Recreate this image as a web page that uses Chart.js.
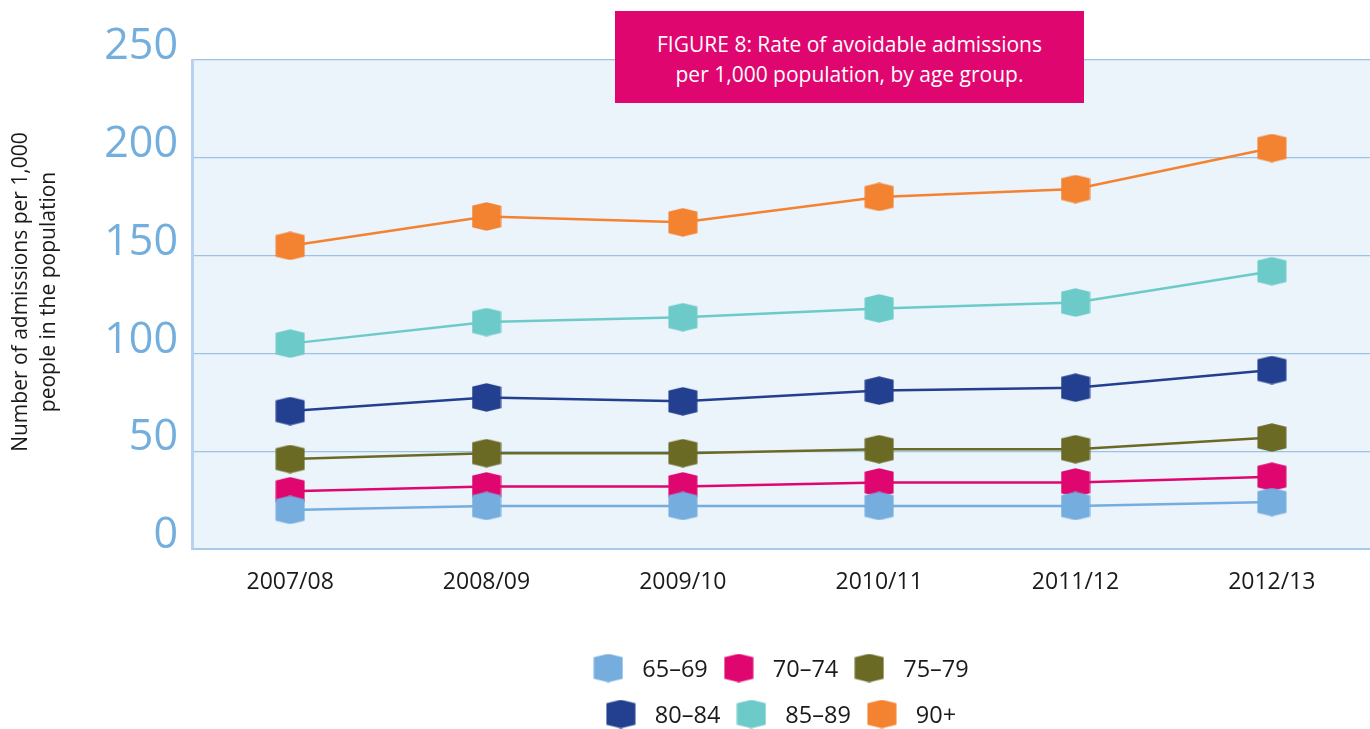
<!DOCTYPE html>
<html>
<head>
<meta charset="utf-8">
<script src="https://cdn.jsdelivr.net/npm/chart.js@4"></script>
<style>
html,body{margin:0;padding:0;background:#fff;}
#wrap{position:relative;width:1370px;height:729px;}
#title{position:absolute;left:615px;top:11px;width:469px;height:92px;background:#E0066F;color:#fff;
font-family:"Open Sans","Noto Sans",sans-serif;font-size:21px;line-height:30px;text-align:center;
box-sizing:border-box;padding-top:18px;z-index:2;}
</style>
</head>
<body>
<div id="wrap">
<canvas id="c" width="1370" height="729"></canvas>
<div id="title">FIGURE 8: Rate of avoidable admissions<br>per 1,000 population, by age group.</div>
</div>
<script>
const categories = ["2007/08","2008/09","2009/10","2010/11","2011/12","2012/13"];
const seriesNames = ["65–69","70–74","75–79","80–84","85–89","90+"];
const age65_69 = [20, 22, 22, 22, 22, 24];
const age70_74 = [29.5, 32, 32, 34, 34, 37];
const age75_79 = [46, 49, 49, 51, 51, 57];
const age80_84 = [70.5, 77.5, 75.5, 81, 82.5, 91.5];
const age85_89 = [105, 116, 118.5, 123, 126, 142];
const age90plus = [155, 170, 167, 180, 184, 205];
const yTicks = [0, 50, 100, 150, 200, 250];
const yTitle = ['Number of admissions per 1,000', 'people in the population'];
const colors = ["#74ADDE","#E0066F","#6B6A24","#233F8F","#6CCBC8","#F38231"];
const seriesValues = [age65_69, age70_74, age75_79, age80_84, age85_89, age90plus];

function hexImg(color){
  const w = 30, h = 29;
  const c = document.createElement('canvas');
  c.width = w; c.height = h;
  const x = c.getContext('2d');
  x.fillStyle = color;
  x.beginPath();
  x.moveTo(w/2, 0.3);
  x.lineTo(w-0.5, 3.8);
  x.lineTo(w-0.5, h-3.8);
  x.lineTo(w/2, h-0.3);
  x.lineTo(0.5, h-3.8);
  x.lineTo(0.5, 3.8);
  x.closePath();
  x.fill();
  return c;
}
const hexes = colors.map(hexImg);

const bgPlugin = {
  id: 'bg',
  beforeDraw(chart){
    const {ctx, chartArea:a} = chart;
    ctx.save();
    ctx.fillStyle = '#EBF3FB';
    ctx.fillRect(a.left, a.top, a.right - a.left, a.bottom - a.top);
    ctx.restore();
  }
};

const yTitlePlugin = {
  id: 'yTitle',
  afterDraw(chart){
    const {ctx} = chart;
    ctx.save();
    ctx.font = '21px "Open Sans","Noto Sans",sans-serif';
    ctx.fillStyle = '#1a1a1a';
    ctx.textAlign = 'center';
    ctx.textBaseline = 'middle';
    const xs = [21, 49];
    yTitle.forEach((t, i) => {
      ctx.save();
      ctx.translate(xs[i], 292);
      ctx.rotate(-Math.PI/2);
      ctx.fillText(t, 0, 0);
      ctx.restore();
    });
    ctx.restore();
  }
};

const legendPlugin = {
  id: 'customLegend',
  afterDraw(chart){
    const {ctx, chartArea:a} = chart;
    const rows = [[0,1,2],[3,4,5]];
    const rowY = [668, 714];
    const markerW = 30, textGap = 19, itemGap = 16;
    ctx.save();
    ctx.font = '23.5px "Open Sans","Noto Sans",sans-serif';
    ctx.textBaseline = 'middle';
    ctx.fillStyle = '#1a1a1a';
    const cx = (a.left + a.right) / 2;
    rows.forEach((r, ri) => {
      const widths = r.map(i => markerW + textGap + ctx.measureText(chart.data.datasets[i].label).width);
      const total = widths.reduce((s,v)=>s+v,0) + itemGap*(r.length-1);
      let x = cx - total/2;
      r.forEach((i, k) => {
        const img = hexes[i];
        ctx.drawImage(img, x, rowY[ri] - img.height/2);
        ctx.fillText(chart.data.datasets[i].label, x + markerW + textGap, rowY[ri] + 2);
        x += widths[k] + itemGap;
      });
    });
    ctx.restore();
  }
};

new Chart(document.getElementById('c'), {
  type: 'line',
  data: {
    labels: categories,
    datasets: seriesNames.map((n, i) => ({
      label: n,
      data: seriesValues[i],
      borderColor: colors[i],
      backgroundColor: colors[i],
      borderWidth: 2.5,
      tension: 0,
      pointStyle: hexes[i],
      pointRadius: 14,
      pointHoverRadius: 14
    }))
  },
  options: {
    responsive: false,
    animation: false,
    events: [],
    layout: { autoPadding: false, padding: { top: 60, right: 0, bottom: 0, left: 0 } },
    plugins: { legend: { display: false }, tooltip: { enabled: false } },
    scales: {
      x: {
        offset: true,
        grid: { display: false, drawTicks: false },
        border: { display: true, color: '#A9CBEA', width: 2 },
        ticks: { color: '#1a1a1a', font: { family: '"Open Sans","Noto Sans",sans-serif', size: 23 }, padding: 20, maxRotation: 0 },
        afterFit(s){ s.height = 180; s.paddingLeft = 0; s.paddingRight = 0; }
      },
      y: {
        min: 0, max: 250,
        afterBuildTicks(s){ s.ticks = yTicks.map(v => ({value: v})); },
        grid: { color: '#9CC2E6', lineWidth: 1.2, drawTicks: false },
        border: { display: true, color: '#B5D2EE', width: 3 },
        ticks: { color: '#72AEDE', font: { family: '"Open Sans","Noto Sans",sans-serif', size: 43, weight: 400 }, padding: 14, labelOffset: -13 },
        title: { display: false },
        afterFit(s){ s.width = 192; s.paddingTop = 0; s.paddingBottom = 0; }
      }
    }
  },
  plugins: [bgPlugin, yTitlePlugin, legendPlugin]
});
</script>
</body>
</html>
